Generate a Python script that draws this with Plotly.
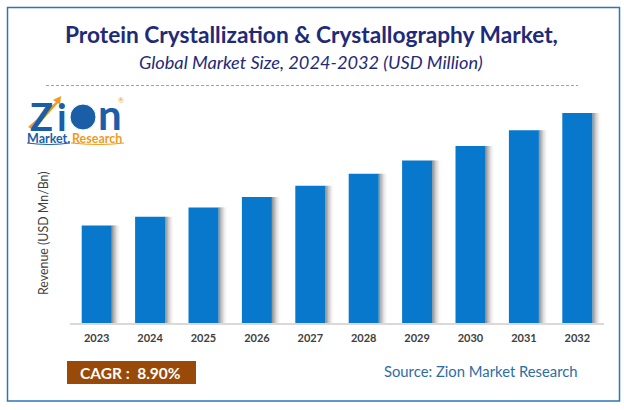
import plotly.graph_objects as go

years = ["2023", "2024", "2025", "2026", "2027", "2028", "2029", "2030", "2031", "2032"]
revenue = [1368.07, 1490, 1622, 1767, 1924, 2095, 2281, 2485, 2706, 2946.85]
bar_labels = ["1368.07 Mn", "", "", "", "", "", "", "", "", "2946.85 Mn"]

W, H = 624, 410
FONT = "Lato"

# page pixels -> paper coordinates
def px(x):
    return x / W

def py(y):
    return 1 - y / H

def text(x, y, s, size, color, **kw):
    return dict(x=px(x), y=py(y), xref="paper", yref="paper", text=s, showarrow=False,
                xanchor="center", yanchor="middle",
                font=dict(family=FONT, size=size, color=color), **kw)

def rect(x0, y0, x1, y1, **kw):
    return dict(type="rect", xref="paper", yref="paper", x0=px(x0), x1=px(x1), y0=py(y0), y1=py(y1), **kw)

fig = go.Figure()

# soft shadow on the right side of the bars
bar_w = 30 / 53.4
for i, alpha in enumerate([0.55, 0.42, 0.3, 0.2, 0.12, 0.06]):
    fig.add_trace(go.Bar(x=years, y=revenue, width=(i + 1) * 1.4 / 53.4, offset=bar_w / 2,
                         marker=dict(color=f"rgba(90,90,90,{alpha / 2})", line_width=0),
                         hoverinfo="skip", showlegend=False))

fig.add_trace(go.Bar(x=years, y=revenue, width=bar_w, marker=dict(color="#0878cc", line_width=0),
                     showlegend=False))

shapes = [
    rect(7.5, 7.5, 619.5, 401, line=dict(color="#2e75b6", width=1.5)),
    dict(type="line", xref="paper", yref="paper", x0=px(46), x1=px(578), y0=py(85.5), y1=py(85.5),
         line=dict(color="#7fa6d8", width=1, dash="3px,2px")),
    rect(67, 361, 196, 384, fillcolor="#9a4a08", line_width=0),
    # logo globe and swooshes
    dict(type="circle", xref="paper", yref="paper", x0=px(70), x1=px(96), y0=py(104), y1=py(130),
         fillcolor="#1a5ea8", line=dict(color="#ffffff", width=1), layer="above"),
    dict(type="path", xref="paper", yref="paper", line=dict(color="#1a5ea8", width=1),
         path=f"M {px(27)} {py(143)} Q {px(50)} {py(146)} {px(70)} {py(143)}"),
    dict(type="path", xref="paper", yref="paper", line=dict(color="#f29a1f", width=1),
         path=f"M {px(71)} {py(143)} Q {px(100)} {py(146)} {px(124)} {py(143)}"),
]

annotations = [
    text(311, 35, "<b>Protein Crystallization &amp; Crystallography Market,</b>", 22.7, "#1f2a78"),
    text(311, 62, "<i>Global Market Size, 2024-2032 (USD Million)</i>", 18.2, "#1f2a78"),
    text(44, 233, "Revenue (USD Mn/Bn)", 12.4, "#404040", textangle=-90),
    text(130, 373, "<b>CAGR :  8.90%</b>", 15.5, "#ffffff"),
    text(481, 371, "Source: Zion Market Research", 14.8, "#2e6da4"),
    # logo lettering
    text(41, 116, "<b>Z</b>", 38, "#1a5ea8"),
    text(62, 116, "<b>i</b>", 38, "#1a5ea8"),
    text(110, 114, "<b>n</b>", 42, "#1a5ea8"),
    text(48, 138, "<b>Market.</b>", 12.5, "#1a5ea8"),
    text(97, 138, "<b>Research</b>", 12.5, "#f29a1f"),
    text(121, 100, "®", 7, "#f29a1f"),
]

# value labels on the first and last bars
for year, value, label in zip(years, revenue, bar_labels):
    if label:
        annotations.append(dict(x=year, y=value, xref="x", yref="y", text=f"<b>{label}</b>", showarrow=False,
                                yanchor="middle", yshift=13, font=dict(family=FONT, size=12, color="#404040")))

fig.update_layout(
    width=W, height=H, margin=dict(l=0, r=0, t=0, b=0),
    paper_bgcolor="white", plot_bgcolor="white", barmode="overlay",
    shapes=shapes, annotations=annotations, showlegend=False,
    xaxis=dict(domain=[px(70), px(604)], type="category", range=[-0.5, 9.5], showgrid=False, zeroline=False,
               showline=True, linecolor="#d9d9d9", linewidth=1.5, ticks="outside", ticklen=4, tickcolor="white",
               tickfont=dict(family=FONT, size=11, color="#404040", weight="bold")),
    yaxis=dict(domain=[py(323), py(95)], range=[0, 228 * 14.03], visible=False),
)

# arrow of the logo, over the Z
fig.add_shape(type="path", xref="paper", yref="paper", line_width=0, fillcolor="#f29a1f", layer="above",
              path=f"M {px(28)} {py(127)} L {px(56)} {py(102)} L {px(53)} {py(100)} L {px(61)} {py(96)} "
                   f"L {px(60)} {py(105)} L {px(58)} {py(103)} L {px(34)} {py(130)} Z")

fig.write_html("out.html", config=dict(displayModeBar=False), post_script="document.body.style.margin='0'")
